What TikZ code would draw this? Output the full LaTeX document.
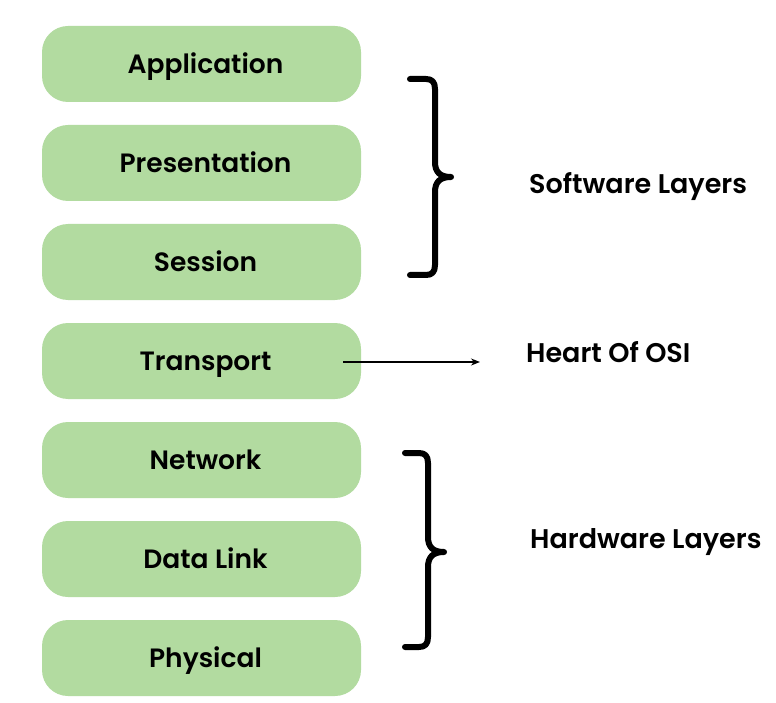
\documentclass[tikz,border=0pt]{standalone}
\usepackage{fontspec}
\setmainfont{Poppins}[BoldFont={Poppins SemiBold}]
\usetikzlibrary{arrows.meta}
\definecolor{layergreen}{RGB}{178,219,160}
\newcommand{\lyr}[1]{\hspace*{8pt}#1}
\begin{document}
\begin{tikzpicture}[x=1pt,y=-1pt,
  layer/.style={fill=layergreen,rounded corners=26pt,minimum width=319pt,minimum height=76pt,inner sep=0pt,
    text height=19pt,text depth=0pt,font=\fontsize{26.5}{30}\selectfont\bfseries},
  lbl/.style={font=\fontsize{27}{30}\selectfont\bfseries,inner sep=0pt,anchor=base west},
  bracestyle/.style={line width=6pt,line cap=round,line join=round}]
\useasboundingbox (0,0) rectangle (776,703);
\node[layer] (app) at (201.5,64) {\lyr{Application}};
\node[layer] (pres) at (201.5,163) {\lyr{Presentation}};
\node[layer] (sess) at (201.5,262) {\lyr{Session}};
\node[layer] (trans) at (201.5,361) {\lyr{Transport}};
\node[layer] (net) at (201.5,460) {\lyr{Network}};
\node[layer] (dl) at (201.5,559) {\lyr{Data Link}};
\node[layer] (phys) at (201.5,658) {\lyr{Physical}};
% upper brace
\draw[bracestyle] (410,79) -- (426,79) .. controls (432,79) and (435,82) .. (435,89)
  -- (435,162) .. controls (435,172) and (440,177) .. (451,177)
  .. controls (440,177) and (435,182) .. (435,192)
  -- (435,265) .. controls (435,272) and (432,275) .. (426,275) -- (410,275);
% lower brace
\draw[bracestyle] (405,453) -- (419,453) .. controls (425,453) and (428,456) .. (428,463)
  -- (428,537) .. controls (428,547) and (433,552) .. (444,552)
  .. controls (433,552) and (428,557) .. (428,567)
  -- (428,637) .. controls (428,644) and (425,647) .. (419,647) -- (405,647);
\node[lbl] (soft) at (529,194) {Software Layers};
\node[lbl] (hard) at (530,548) {Hardware Layers};
\node[lbl] (heart) at (526,362) {Heart Of OSI};
\coordinate (arrS) at (343,362);
\coordinate (arrE) at (480,362);
\draw[line width=1.4pt,-{Stealth[length=9pt,width=7pt]}] (arrS) -- (arrE);
\end{tikzpicture}
\end{document}
